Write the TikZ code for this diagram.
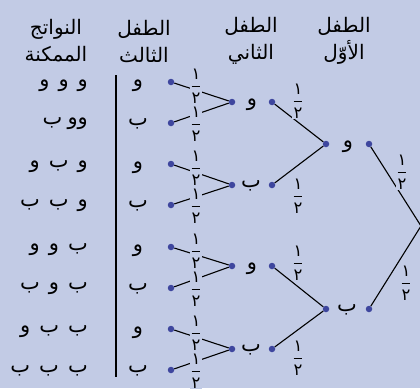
\documentclass[tikz,border=0pt]{standalone}
\usepackage{fontspec}
\usetikzlibrary{positioning,calc}
\TeXXeTstate=1
\newfontfamily\arabicfont[Script=Arabic]{DejaVu Sans}
\definecolor{paleblue}{RGB}{194,203,229}
\definecolor{dotblue}{RGB}{62,70,158}
\tikzset{
  dot/.style={circle,fill=dotblue,inner sep=0pt,minimum size=6.5pt},
  lbl/.style={font=\arabicfont\fontsize{21}{24}\selectfont,inner sep=1pt},
  head/.style={lbl,align=center,font=\arabicfont\fontsize{20}{27}\selectfont},
  outcome/.style={lbl,anchor=east},
  half/.style={inner sep=0.6pt,fill=paleblue,font=\arabicfont\fontsize{16.5}{19}\selectfont},
  branch/.style={draw=black,line width=1.1pt}
}
\newcommand{\nisf}{$\displaystyle{\mbox{١}\above1.1pt\mbox{٢}}$}
\newcommand{\gap}{\hspace{9pt}}
\begin{document}
\begin{tikzpicture}[x=1pt,y=-1pt]
  \useasboundingbox[fill=paleblue] (0,0) rectangle (420,388);

  % column heads
  \node[head] (h1) at (344,41) {\beginR الطفل\endR\\\beginR الأوّل\endR};
  \node[head] (h2) at (251,41) {\beginR الطفل\endR\\\beginR الثاني\endR};
  \node[head] (h3) at (144,41) {\beginR الطفل\endR\\\beginR الثالث\endR};
  \node[head] (h4) at (56,41) {\beginR النواتج\endR\\\beginR الممكنة\endR};

  % first child
  \coordinate (r) at (421,226);
  \node[dot] (f1r) at (369,144) {};
  \node[dot] (f1l) at (326,144) {};
  \node[lbl] (f1) at (348,147) {و};
  \node[dot] (f2r) at (369,309) {};
  \node[dot] (f2l) at (326,309) {};
  \node[lbl] (f2) at (347,310) {ب};

  % second child
  \node[dot] (s1r) at (272,102) {};
  \node[dot] (s1l) at (232,102) {};
  \node[lbl] (s1) at (252,105) {و};
  \node[dot] (s2r) at (272,185) {};
  \node[dot] (s2l) at (232,185) {};
  \node[lbl] (s2) at (251,186) {ب};
  \node[dot] (s3r) at (272,266) {};
  \node[dot] (s3l) at (232,266) {};
  \node[lbl] (s3) at (252,269) {و};
  \node[dot] (s4r) at (272,349) {};
  \node[dot] (s4l) at (232,349) {};
  \node[lbl] (s4) at (251,350) {ب};

  % third child
  \node[dot] (t1) at (171,82) {};
  \node[dot] (t2) at (171,123) {};
  \node[dot] (t3) at (171,164) {};
  \node[dot] (t4) at (171,205) {};
  \node[dot] (t5) at (171,247) {};
  \node[dot] (t6) at (171,288) {};
  \node[dot] (t7) at (171,329) {};
  \node[dot] (t8) at (171,370) {};
  \node[lbl] (c1) at (138,86) {و};
  \node[lbl] (c2) at (138,124) {ب};
  \node[lbl] (c3) at (138,168) {و};
  \node[lbl] (c4) at (138,206) {ب};
  \node[lbl] (c5) at (138,251) {و};
  \node[lbl] (c6) at (138,289) {ب};
  \node[lbl] (c7) at (138,333) {و};
  \node[lbl] (c8) at (138,371) {ب};

  % outcomes
  \node[outcome] (o1) at (89,86) {\beginR و\gap و\gap و\endR};
  \node[outcome] (o2) at (89,124) {\beginR وو\hspace{5pt}ب\endR};
  \node[outcome] (o3) at (89,167) {\beginR و\gap ب\gap و\endR};
  \node[outcome] (o4) at (89,206) {\beginR و\gap ب\gap ب\endR};
  \node[outcome] (o5) at (89,250) {\beginR ب\gap و\gap و\endR};
  \node[outcome] (o6) at (89,289) {\beginR ب\gap و\gap ب\endR};
  \node[outcome] (o7) at (89,332) {\beginR ب\gap ب\gap و\endR};
  \node[outcome] (o8) at (89,371) {\beginR ب\gap ب\gap ب\endR};
  \draw[line width=1.1pt] (116,75) -- (116,377);

  % branches
  \draw[branch] (r) -- (f1r);
  \draw[branch] (r) -- (f2r);
  \draw[branch] (f1l) -- (s1r);
  \draw[branch] (f1l) -- (s2r);
  \draw[branch] (f2l) -- (s3r);
  \draw[branch] (f2l) -- (s4r);
  \draw[branch] (s1l) -- (t1);
  \draw[branch] (s1l) -- (t2);
  \draw[branch] (s2l) -- (t3);
  \draw[branch] (s2l) -- (t4);
  \draw[branch] (s3l) -- (t5);
  \draw[branch] (s3l) -- (t6);
  \draw[branch] (s4l) -- (t7);
  \draw[branch] (s4l) -- (t8);

  % probabilities
  \node[half] at ([shift={(33,28)}]f1r) {\nisf};
  \node[half] at ([shift={(37,-26)}]f2r) {\nisf};
  \node[half] at ([shift={(26,-1)}]s1r) {\nisf};
  \node[half] at ([shift={(26,11)}]s2r) {\nisf};
  \node[half] at ([shift={(26,-3)}]s3r) {\nisf};
  \node[half] at ([shift={(26,9)}]s4r) {\nisf};
  \node[half] at ([shift={(25,4)}]t1) {\nisf};
  \node[half] at ([shift={(25,1)}]t2) {\nisf};
  \node[half] at ([shift={(25,4)}]t3) {\nisf};
  \node[half] at ([shift={(25,1)}]t4) {\nisf};
  \node[half] at ([shift={(25,4)}]t5) {\nisf};
  \node[half] at ([shift={(25,1)}]t6) {\nisf};
  \node[half] at ([shift={(25,4)}]t7) {\nisf};
  \node[half] at ([shift={(25,1)}]t8) {\nisf};
\end{tikzpicture}
\end{document}
